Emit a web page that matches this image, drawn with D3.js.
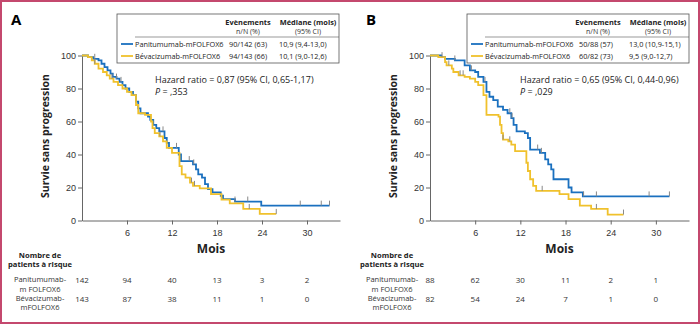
<!DOCTYPE html>
<html lang="fr">
<head>
    <meta charset="UTF-8">
    <title>Survie sans progression</title>
    <script src="https://d3js.org/d3.v7.min.js"></script>
    <style>
        body { margin: 0; background: #fff; }
        svg { display: block; font-family: "Open Sans", Arial, sans-serif; }
        .axis text { fill: #333; font-size: 9px; }
        .axis path, .axis line { stroke: #666; }
    </style>
</head>
<body>
    <div id="chart"></div>

    <script>
        // Shared ticks
        const monthTicks = [6, 12, 18, 24, 30];
        const survTicks = [0, 20, 40, 60, 80, 100];
        const riskTimes = [0, 6, 12, 18, 24, 30];

        // Panel A: [month, survival %] at each drop
        const aPaniSteps = [[0,100],[0.8,99],[1.5,98],[2.2,97],[2.6,95],[3.0,93],[3.4,91],[3.8,89],[4.1,87],[4.6,86],[5.0,84],[5.4,82],[5.8,80],[6.3,78],[6.8,76],[7.2,72],[7.5,68],[7.8,65],[8.8,63],[9.1,61],[9.5,58],[9.9,56],[10.3,54],[11.0,50],[11.3,47],[11.6,44],[12.9,40],[13.2,36],[14.8,34],[15.2,31],[15.5,28],[16.0,26],[16.4,22],[16.8,19],[17.4,17],[18.5,15],[18.8,13],[20.4,11.5],[23.9,9]];
        const aPaniEnd = 33.0;
        const aPaniCensor = [1.7, 4.6, 5.2, 10.8, 12.6, 14.3, 14.9, 20.4, 22.1, 29.1, 31.9, 33.0];

        const aBevSteps = [[0,100],[0.8,99],[1.3,97],[1.7,95],[2.2,92],[2.8,90],[3.3,88],[3.7,86],[4.2,84],[4.8,82],[5.4,80],[6.0,78],[6.6,76],[7.2,70],[7.5,65],[8.4,64],[9.2,60],[9.4,56],[9.7,53],[10.3,51],[10.8,48],[11.3,44],[12.0,41],[13.0,33],[13.3,28],[13.8,26],[14.4,23],[14.8,21],[15.7,19.5],[17.2,16],[18.6,12.6],[19.7,10.4],[21.5,7],[23.7,4]];
        const aBevEnd = 25.9;
        const aBevCensor = [1.7, 4.0, 10.4, 14.6, 15.0, 22.3, 25.9];

        // Panel B
        const bPaniSteps = [[0,100],[1.5,99],[2.0,98],[3.3,97],[4.6,94],[5.3,91],[6.0,90],[6.4,87],[7.1,84],[7.5,78],[7.9,75],[8.4,73],[9.0,69],[9.7,67],[10.3,65],[10.8,62],[11.1,58],[11.5,54],[12.6,53],[13.0,50],[13.3,43],[14.6,41],[15.3,37],[15.7,34],[16.1,31],[16.4,25],[18.4,20],[18.8,17],[20.3,14.6]];
        const bPaniEnd = 31.8;
        const bPaniCensor = [1.6, 3.3, 5.5, 7.3, 10.6, 10.9, 14.3, 14.8, 20.4, 22.1, 29.1, 31.8];

        const bBevSteps = [[0,100],[1.1,99],[2.0,96],[2.2,94],[2.9,92],[3.1,90],[3.8,88],[4.6,87],[5.3,86],[6.0,84],[6.4,82],[7.1,76],[7.5,64],[9.1,63],[9.3,58],[9.5,53],[9.7,49],[10.4,48],[10.8,46],[11.3,42],[12.8,35],[13.0,30],[13.3,25],[13.7,21],[14.1,18],[17.2,16],[18.4,13],[19.9,9],[21.4,7],[23.6,3.6]];
        const bBevEnd = 25.7;
        const bBevCensor = [2.5, 4.0, 4.4, 9.7, 10.6, 14.9, 22.1, 25.7];

        // Patients at risk
        const aRiskPani = [142, 94, 40, 13, 3, 2];
        const aRiskBev = [143, 87, 38, 11, 1, 0];
        const bRiskPani = [88, 62, 30, 11, 2, 1];
        const bRiskBev = [82, 54, 24, 7, 1, 0];

        // Legend rows
        const armNames = ["Panitumumab-mFOLFOX6", "Bévacizumab-mFOLFOX6"];
        const aEvents = ["90/142 (63)", "94/143 (66)"];
        const aMedians = ["10,9 (9,4-13,0)", "10,1 (9,0-12,6)"];
        const bEvents = ["50/88 (57)", "60/82 (73)"];
        const bMedians = ["13,0 (10,9-15,1)", "9,5 (9,0-12,7)"];
        const aStats = ["Hazard ratio = 0,87 (95% CI, 0,65-1,17)", ",353"];
        const bStats = ["Hazard ratio = 0,65 (95% CI, 0,44-0,96)", ",029"];

        const blue = "#1a70bf";
        const yellow = "#f0c12c";

        const width = 700, height = 324;
        const svg = d3.select("#chart").append("svg")
            .attr("width", width)
            .attr("height", height);

        // frame
        svg.append("rect")
            .attr("x", 1).attr("y", 1)
            .attr("width", width - 2).attr("height", height - 2)
            .attr("fill", "none")
            .attr("stroke", "#c4486e")
            .attr("stroke-width", 2);

        function survAt(steps, t) {
            let s = steps[0][1];
            for (const d of steps) if (d[0] <= t) s = d[1];
            return s;
        }

        function drawPanel(p) {
            const g = svg.append("g");
            const x = d3.scaleLinear().domain([0, 34.4]).range([p.left, p.left + p.w]);
            const y = d3.scaleLinear().domain([0, 100]).range([220.5, 55.5]);

            g.append("text")
                .attr("x", p.letterX).attr("y", 25)
                .attr("font-size", 15).attr("font-weight", "bold")
                .text(p.letter);

            g.append("g").attr("class", "axis")
                .attr("transform", `translate(${p.left},0)`)
                .call(d3.axisLeft(y).tickValues(survTicks).tickSize(4).tickSizeOuter(0).tickPadding(2));

            g.append("g").attr("class", "axis")
                .attr("transform", "translate(0,220.5)")
                .call(d3.axisBottom(x).tickValues(monthTicks).tickSize(4).tickSizeOuter(0).tickPadding(5));

            g.append("text")
                .attr("transform", `translate(${p.left - 33},136) rotate(-90)`)
                .attr("text-anchor", "middle")
                .attr("font-size", 10.5).attr("font-weight", "bold")
                .attr("fill", "#222")
                .text("Survie sans progression");

            g.append("text")
                .attr("x", (x(0) + x(34.4)) / 2).attr("y", 252.5)
                .attr("text-anchor", "middle")
                .attr("font-size", 12).attr("font-weight", "bold")
                .attr("fill", "#222")
                .text("Mois");

            // curves
            const line = d3.line()
                .x(d => x(d[0]))
                .y(d => y(d[1]))
                .curve(d3.curveStepAfter);

            p.series.forEach(s => {
                const pts = s.steps.concat([[s.end, s.steps[s.steps.length - 1][1]]]);
                g.append("path")
                    .datum(pts)
                    .attr("d", line)
                    .attr("fill", "none")
                    .attr("stroke", s.color)
                    .attr("stroke-width", 1.8);
            });

            p.series.forEach(s => {
                g.selectAll(null)
                    .data(s.censor)
                    .enter()
                    .append("line")
                    .attr("x1", d => x(d)).attr("x2", d => x(d))
                    .attr("y1", d => y(survAt(s.steps, d)) - 5)
                    .attr("y2", d => y(survAt(s.steps, d)))
                    .attr("stroke", "#888")
                    .attr("stroke-width", 1);
            });

            // legend box
            const lg = g.append("g").attr("transform", `translate(${p.legX},14)`);
            lg.append("rect")
                .attr("width", 222).attr("height", 49)
                .attr("fill", "#fff").attr("stroke", "#555").attr("stroke-width", 0.8);
            lg.append("line")
                .attr("x1", 18).attr("x2", 222).attr("y1", 23).attr("y2", 23)
                .attr("stroke", "#555").attr("stroke-width", 0.6);
            const head = [["Evènements", "n/N (%)", 131], ["Médiane (mois)", "(95% CI)", 191]];
            head.forEach(h => {
                lg.append("text").attr("x", h[2]).attr("y", 10.5)
                    .attr("text-anchor", "middle").attr("font-size", 7.4).attr("font-weight", "bold")
                    .attr("fill", "#222").text(h[0]);
                lg.append("text").attr("x", h[2]).attr("y", 19.8)
                    .attr("text-anchor", "middle").attr("font-size", 7)
                    .attr("fill", "#333").text(h[1]);
            });
            p.series.forEach((s, i) => {
                const ry = 30 + i * 12;
                lg.append("line")
                    .attr("x1", 4).attr("x2", 16).attr("y1", ry).attr("y2", ry)
                    .attr("stroke", s.color).attr("stroke-width", 1.8);
                lg.append("text").attr("x", 18).attr("y", ry + 2.8)
                    .attr("font-size", 7.3).attr("fill", "#222").text(armNames[i]);
                lg.append("text").attr("x", 112).attr("y", ry + 2.8)
                    .attr("font-size", 7.3).attr("fill", "#222").text(p.events[i]);
                lg.append("text").attr("x", 162).attr("y", ry + 2.8)
                    .attr("font-size", 7.3).attr("fill", "#222").text(p.medians[i]);
            });

            // hazard ratio
            g.append("text").attr("x", p.hrX).attr("y", 82.5)
                .attr("font-size", 9).attr("fill", "#222").text(p.stats[0]);
            const pt = g.append("text").attr("x", p.hrX).attr("y", 94.5)
                .attr("font-size", 9).attr("fill", "#222");
            pt.append("tspan").attr("font-style", "italic").text("P");
            pt.append("tspan").text(" = " + p.stats[1]);

            // number at risk
            const tx = p.tableX;
            [["Nombre de", 258], ["patients à risque", 266.5]].forEach(t => {
                g.append("text").attr("x", tx).attr("y", t[1])
                    .attr("text-anchor", "middle").attr("font-size", 7.6).attr("font-weight", "bold")
                    .attr("fill", "#222").text(t[0]);
            });
            [["Panitumumab-", 282], ["m FOLFOX6", 291.5], ["Bévacizumab-", 301], ["mFOLFOX6", 310]].forEach(t => {
                g.append("text").attr("x", tx).attr("y", t[1])
                    .attr("text-anchor", "middle").attr("font-size", 7.5)
                    .attr("fill", "#333").text(t[0]);
            });
            [[p.riskPani, 283], [p.riskBev, 302]].forEach(r => {
                g.selectAll(null)
                    .data(r[0])
                    .enter()
                    .append("text")
                    .attr("x", (d, i) => x(riskTimes[i]))
                    .attr("y", r[1])
                    .attr("text-anchor", "middle")
                    .attr("font-size", 8)
                    .attr("fill", "#333")
                    .text(d => d);
            });
        }

        drawPanel({
            letter: "A", letterX: 11, left: 82, w: 258, legX: 117, hrX: 155, tableX: 40,
            series: [
                { steps: aPaniSteps, end: aPaniEnd, censor: aPaniCensor, color: blue },
                { steps: aBevSteps, end: aBevEnd, censor: aBevCensor, color: yellow }
            ],
            events: aEvents, medians: aMedians, stats: aStats,
            riskPani: aRiskPani, riskBev: aRiskBev
        });

        drawPanel({
            letter: "B", letterX: 366, left: 430, w: 259, legX: 467, hrX: 520, tableX: 392,
            series: [
                { steps: bPaniSteps, end: bPaniEnd, censor: bPaniCensor, color: blue },
                { steps: bBevSteps, end: bBevEnd, censor: bBevCensor, color: yellow }
            ],
            events: bEvents, medians: bMedians, stats: bStats,
            riskPani: bRiskPani, riskBev: bRiskBev
        });
    </script>
</body>
</html>
